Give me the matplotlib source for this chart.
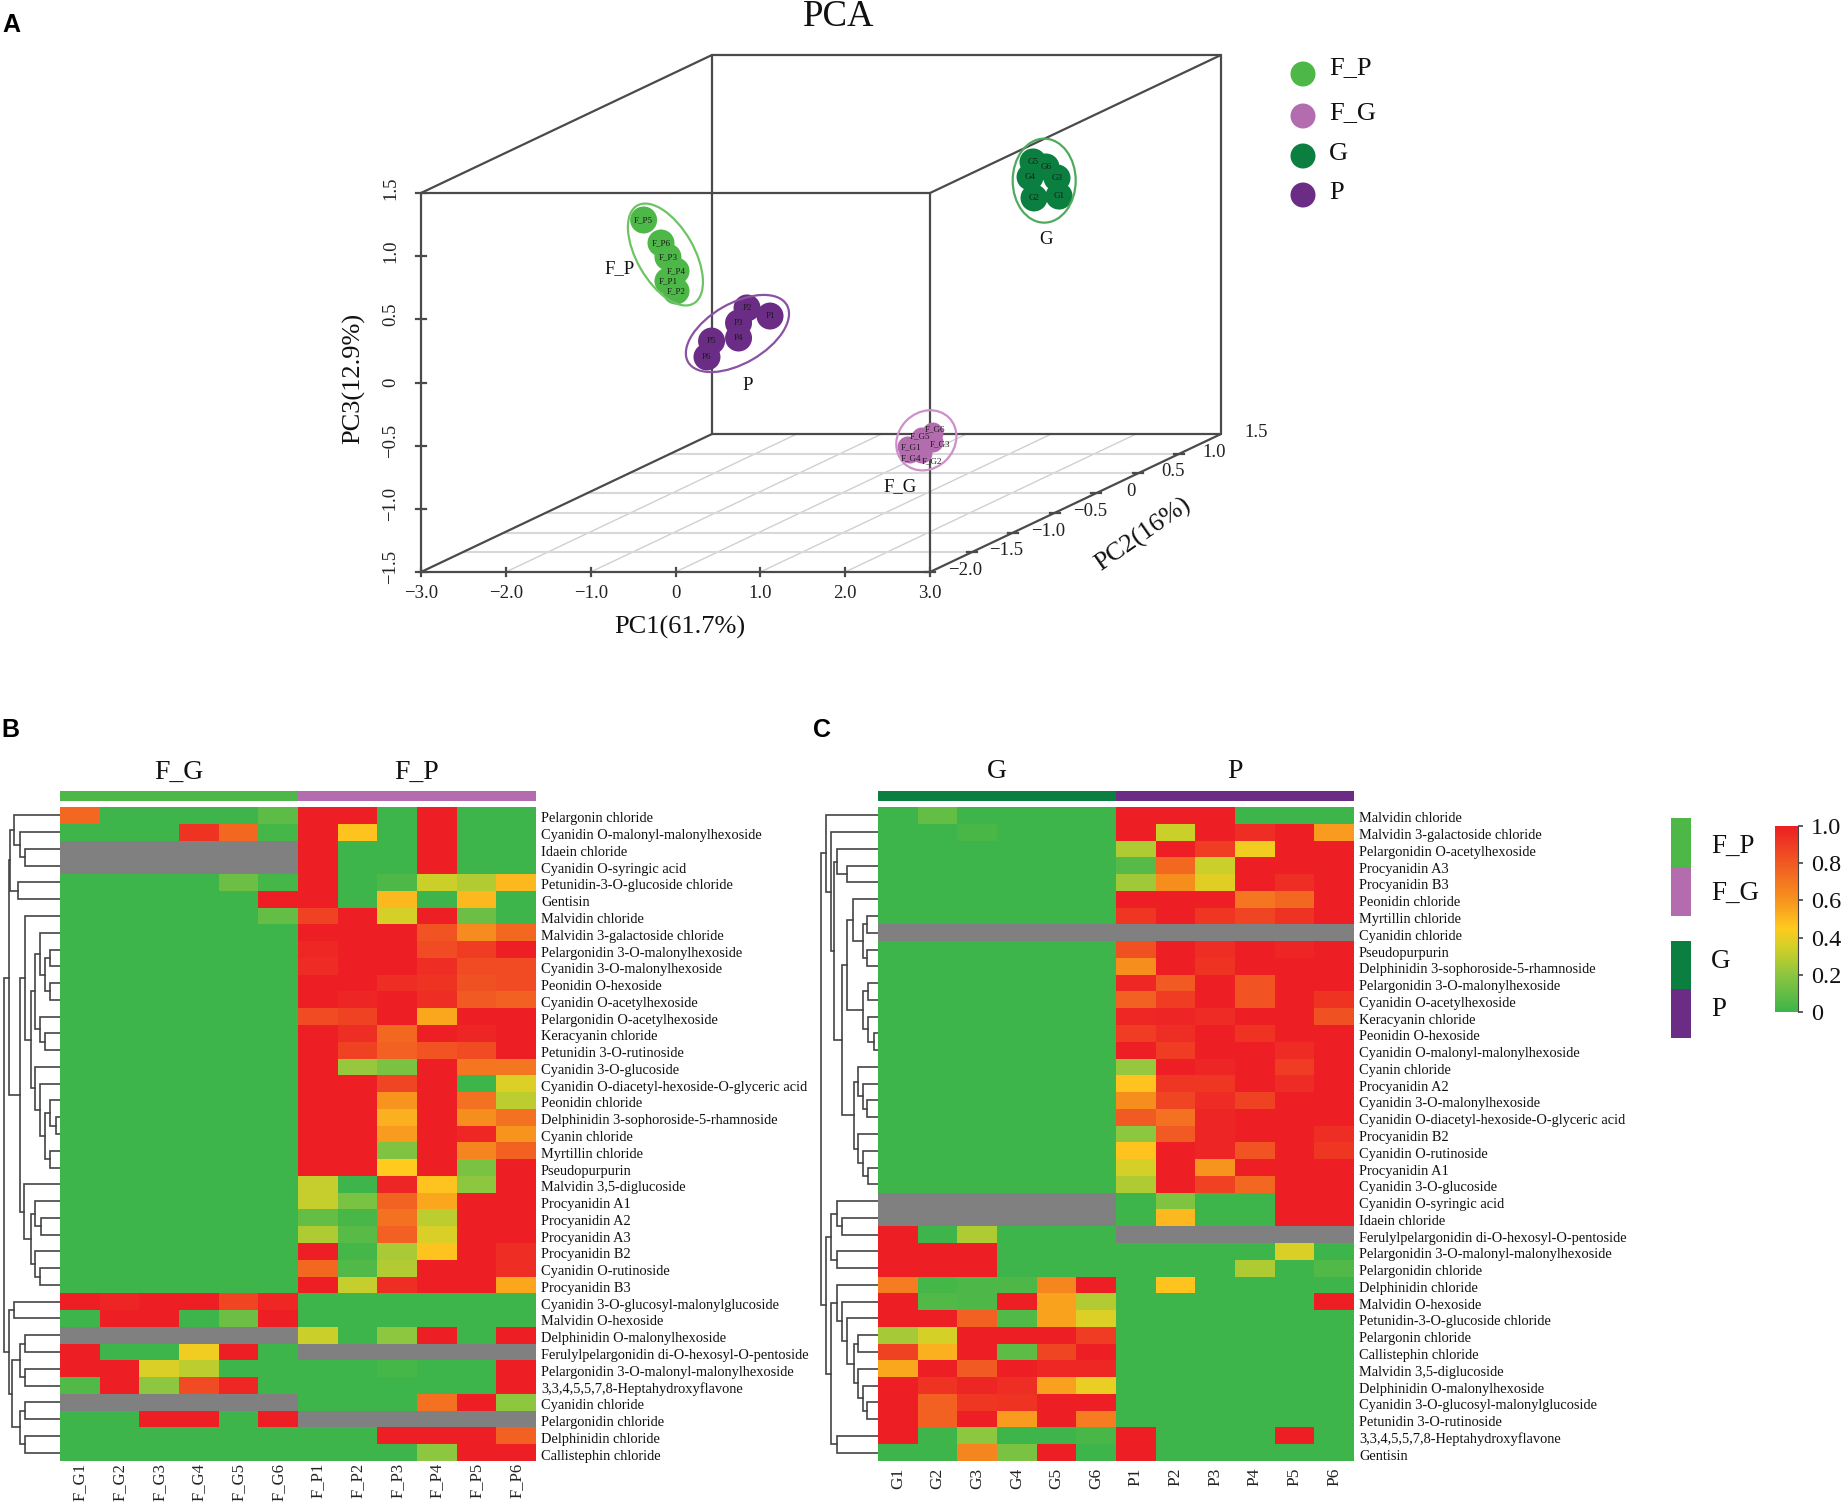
import numpy as np
import matplotlib
matplotlib.use('Agg')
import matplotlib.pyplot as plt
from matplotlib.colors import LinearSegmentedColormap
from matplotlib.patches import Ellipse, Rectangle
from matplotlib.transforms import ScaledTranslation

plt.rcParams['font.family'] = ['Liberation Serif', 'DejaVu Serif']

W, H = 1843, 1504
n = np.nan
Z6 = [0, 0, 0, 0, 0, 0]
N6 = [n, n, n, n, n, n]

# --- PCA scores
fp_names = ['F_P1', 'F_P2', 'F_P3', 'F_P4', 'F_P5', 'F_P6']
fp_pc1 = [-1.804, -1.709, -1.804, -1.709, -2.091, -1.886]
fp_pc2 = [-0.25, -0.25, -0.25, -0.25, -0.25, -0.25]
fp_pc3 = [0.257, 0.178, 0.447, 0.336, 0.740, 0.558]

p_names = ['P1', 'P2', 'P3', 'P4', 'P5', 'P6']
p_pc1 = [-0.601, -0.872, -0.972, -0.972, -1.290, -1.344]
p_pc2 = [-0.25, -0.25, -0.25, -0.25, -0.25, -0.25]
p_pc3 = [-0.020, 0.044, -0.075, -0.194, -0.218, -0.344]

fg_names = ['F_G1', 'F_G2', 'F_G3', 'F_G4', 'F_G5', 'F_G6']
fg_pc1 = [1.369, 1.534, 1.663, 1.392, 1.534, 1.663]
fg_pc2 = [-0.6, -0.6, -0.6, -0.6, -0.6, -0.6]
fg_pc3 = [-0.947, -0.995, -0.908, -0.995, -0.876, -0.837]

g_names = ['G1', 'G2', 'G3', 'G4', 'G5', 'G6']
g_pc1 = [1.777, 1.482, 1.753, 1.435, 1.470, 1.623]
g_pc2 = [0.8, 0.8, 0.8, 0.8, 0.8, 0.8]
g_pc3 = [0.602, 0.587, 0.745, 0.753, 0.872, 0.832]

pc1_ticks = [-3.0, -2.0, -1.0, 0, 1.0, 2.0, 3.0]
pc2_ticks = [-2.0, -1.5, -1.0, -0.5, 0, 0.5, 1.0, 1.5]
pc3_ticks = [-1.5, -1.0, -0.5, 0, 0.5, 1.0, 1.5]

# --- heatmap B
b_cols = fg_names + fp_names
b_rows = ['Pelargonin chloride', 'Cyanidin O-malonyl-malonylhexoside', 'Idaein chloride',
          'Cyanidin O-syringic acid', 'Petunidin-3-O-glucoside chloride', 'Gentisin',
          'Malvidin chloride', 'Malvidin 3-galactoside chloride', 'Pelargonidin 3-O-malonylhexoside',
          'Cyanidin 3-O-malonylhexoside', 'Peonidin O-hexoside', 'Cyanidin O-acetylhexoside',
          'Pelargonidin O-acetylhexoside', 'Keracyanin chloride', 'Petunidin 3-O-rutinoside',
          'Cyanidin 3-O-glucoside', 'Cyanidin O-diacetyl-hexoside-O-glyceric acid', 'Peonidin chloride',
          'Delphinidin 3-sophoroside-5-rhamnoside', 'Cyanin chloride', 'Myrtillin chloride',
          'Pseudopurpurin', 'Malvidin 3,5-diglucoside', 'Procyanidin A1', 'Procyanidin A2',
          'Procyanidin A3', 'Procyanidin B2', 'Cyanidin O-rutinoside', 'Procyanidin B3',
          'Cyanidin 3-O-glucosyl-malonylglucoside', 'Malvidin O-hexoside', 'Delphinidin O-malonylhexoside',
          'Ferulylpelargonidin di-O-hexosyl-O-pentoside', 'Pelargonidin 3-O-malonyl-malonylhexoside',
          '3,3,4,5,5,7,8-Heptahydroxyflavone', 'Cyanidin chloride', 'Pelargonidin chloride',
          'Delphinidin chloride', 'Callistephin chloride']
b_left = [[.75, 0, 0, 0, 0, .08], [0, 0, 0, .93, .75, .02], N6, N6, [0, 0, 0, 0, .12, .02],
          [0, 0, 0, 0, 0, 1], [0, 0, 0, 0, 0, .1]] + [Z6] * 22 + \
         [[1, .98, 1, 1, .87, .97], [0, 1, 1, 0, .12, 1], N6, [1, 0, 0, .42, 1, 0],
          [1, 1, .36, .3, 0, 0], [.05, 1, .2, .85, .97, 0], N6, [0, 0, 1, 1, 0, 1], Z6, Z6]
b_right = [[1, 1, 0, 1, 0, 0], [1, .47, 0, 1, 0, 0], [1, 0, 0, 1, 0, 0], [1, 0, 0, 1, 0, 0],
           [1, 0, .04, .33, .28, .5], [1, 0, .5, 0, .5, 0], [.88, 1, .35, 1, .12, 0],
           [1, 1, 1, .82, .63, .75], [.97, 1, 1, .85, .9, 1], [.96, 1, 1, .95, .85, .85],
           [1, 1, .95, .93, .83, .85], [1, .98, 1, .95, .8, .78], [.85, .88, 1, .55, 1, 1],
           [1, .95, .75, 1, .98, 1], [1, .88, .78, .82, .85, 1], [1, .22, .15, 1, .7, .7],
           [1, 1, .87, 1, 0, .37], [1, 1, .6, 1, .72, .3], [1, 1, .52, 1, .62, .72],
           [1, 1, .58, 1, .97, .6], [1, 1, .17, 1, .65, .78], [1, 1, .45, 1, .15, 1],
           [.32, 0, .98, .47, .2, 1], [.32, .15, .77, .55, 1, 1], [.1, .03, .72, .3, 1, 1],
           [.27, .07, .78, .36, 1, 1], [1, .02, .26, .47, 1, .95], [.75, .05, .28, 1, 1, .95],
           [1, .32, .95, 1, 1, .55], Z6, Z6, [.33, 0, .2, 1, 0, 1], N6, [0, 0, .02, 0, 0, 1],
           [0, 0, 0, 0, 0, 1], [0, 0, 0, .72, 1, .2], N6, [0, 0, 1, 1, 1, .78], [0, 0, 0, .2, 1, 1]]

# --- heatmap C
c_cols = g_names + p_names
c_rows = ['Malvidin chloride', 'Malvidin 3-galactoside chloride', 'Pelargonidin O-acetylhexoside',
          'Procyanidin A3', 'Procyanidin B3', 'Peonidin chloride', 'Myrtillin chloride', 'Cyanidin chloride',
          'Pseudopurpurin', 'Delphinidin 3-sophoroside-5-rhamnoside', 'Pelargonidin 3-O-malonylhexoside',
          'Cyanidin O-acetylhexoside', 'Keracyanin chloride', 'Peonidin O-hexoside',
          'Cyanidin O-malonyl-malonylhexoside', 'Cyanin chloride', 'Procyanidin A2',
          'Cyanidin 3-O-malonylhexoside', 'Cyanidin O-diacetyl-hexoside-O-glyceric acid', 'Procyanidin B2',
          'Cyanidin O-rutinoside', 'Procyanidin A1', 'Cyanidin 3-O-glucoside', 'Cyanidin O-syringic acid',
          'Idaein chloride', 'Ferulylpelargonidin di-O-hexosyl-O-pentoside',
          'Pelargonidin 3-O-malonyl-malonylhexoside', 'Pelargonidin chloride', 'Delphinidin chloride',
          'Malvidin O-hexoside', 'Petunidin-3-O-glucoside chloride', 'Pelargonin chloride',
          'Callistephin chloride', 'Malvidin 3,5-diglucoside', 'Delphinidin O-malonylhexoside',
          'Cyanidin 3-O-glucosyl-malonylglucoside', 'Petunidin 3-O-rutinoside',
          '3,3,4,5,5,7,8-Heptahydroxyflavone', 'Gentisin']
c_left = [[0, .1, 0, 0, 0, 0], [0, 0, .03, 0, 0, 0]] + [Z6] * 5 + [N6] + [Z6] * 15 + [N6, N6] + \
         [[1, 0, .27, 0, 0, 0], [1, 1, 1, 0, 0, 0], [1, 1, 1, 0, 0, 0],
          [.68, .02, .04, .04, .65, 1], [1, .05, .04, 1, .56, .28], [1, 1, .78, .05, .56, .37],
          [.25, .35, 1, 1, 1, .9], [.88, .52, 1, .08, .87, 1], [.55, 1, .8, 1, .97, .97],
          [1, .93, .98, .95, .57, .4], [1, .78, .92, .93, 1, 1], [1, .78, 1, .58, 1, .68],
          [1, 0, .2, 0, 0, .03], [0, 0, .65, .15, 1, 0]]
c_right = [[1, 1, 1, 0, 0, 0], [1, .33, 1, .95, 1, .58], [.27, 1, .9, .42, 1, 1], [.06, .75, .33, 1, 1, 1],
           [.24, .62, .38, 1, .95, 1], [1, 1, 1, .7, .75, 1], [.92, 1, .92, .87, .93, 1], N6,
           [.83, 1, .95, 1, .98, 1], [.62, 1, .93, 1, 1, 1], [.97, .8, 1, .82, 1, 1],
           [.78, .9, 1, .82, 1, .93], [.97, .98, .96, 1, 1, .83], [.9, .95, 1, .93, 1, 1],
           [1, .9, 1, 1, .96, 1], [.22, 1, .98, 1, .9, 1], [.47, .92, .92, 1, .96, 1],
           [.62, .87, .96, .88, 1, 1], [.8, .72, .98, 1, 1, 1], [.2, .8, .98, 1, 1, .95],
           [.47, 1, .98, .82, 1, .92], [.35, 1, .6, 1, 1, 1], [.27, 1, .88, .75, 1, 1],
           [0, .17, 0, 0, 1, 1], [0, .5, 0, 0, 1, 1], N6, [0, 0, 0, 0, .36, 0], [0, 0, 0, .27, 0, .05],
           [0, .47, 0, 0, 0, 0], [0, 0, 0, 0, 0, 1]] + [Z6] * 7 + [[1, 0, 0, 0, 1, 0], [1, 0, 0, 0, 0, 0]]

# row trees: (height, left, right), leaves are row numbers
b_tree = (105,
          (97,
           (95, (86, 1, (76, 2, (66, 3, 4))), (80, 5, 6)),
           (76,
            (66, 7, (55,
                     (48, (38, 8, (28, (18, 9, 10), (18, 11, 12))), (38, 13, (28, 14, 15))),
                     (48, 16, (38, 17, (28, (18, 18, (8, 19, 20)), (18, 21, 22)))))),
            (68, 23, (55, (48, 24, (35, 25, 26)), (48, 27, (38, 28, 29)))))),
          (96, (86, 30, 31),
           (90, (75, (66, 32, 33), (66, 34, 35)), (75, (66, 36, 37), (66, 38, 39)))))

c_tree = (108,
          (98, 1, (88, 2, (83, (78, 3, (58, 4, 5)),
                           (68,
                            (58, (48, 6, (28, (20, 7, 8), (20, 9, 10))),
                             (28, (18, 11, 12), (18, 13, (8, 14, 15)))),
                            (45, (38, 16, (28, 17, (20, 18, 19))), (38, 20, (28, 21, (18, 22, 23)))))))),
          (98,
           (88, (78, 24, (68, 25, 26)), (78, 27, 28)),
           (88,
            (78, 29, (68, 30, (58, 31, (45, (38, 32, 33), (38, 34, (28, 35, (20, 36, 37))))))),
            (78, 38, 39))))

col_fp, col_fg, col_g, col_p = '#4db848', '#b36dae', '#0b7f3f', '#6b2c85'
cmap = LinearSegmentedColormap.from_list('gyr', [(0, '#3db54a'), (0.2, '#8dc63f'), (0.35, '#d4d027'),
                                                 (0.45, '#ffcb1f'), (0.6, '#f7941e'), (0.8, '#f15a22'),
                                                 (1, '#ed1f24')], N=256)
cmap.set_bad('#808080')

fig = plt.figure(figsize=(W / 100, H / 100), dpi=100)
canvas = fig.add_axes([0, 0, 1, 1])
canvas.set_xlim(0, W)
canvas.set_ylim(H, 0)
canvas.axis('off')


def add_ax(x0, y0, x1, y1):
    # axes from pixel box, y counted from the top
    return fig.add_axes([x0 / W, 1 - y1 / H, (x1 - x0) / W, (y1 - y0) / H])


def project(pc1, pc2, pc3):
    # oblique view of the PCA box
    pc1, pc2, pc3 = np.asarray(pc1, float), np.asarray(pc2, float), np.asarray(pc3, float)
    t = (pc2 + 2) / 3.5
    return 421 + (pc1 + 3) / 6 * 509 + t * 291, 572 - (pc3 + 1.5) / 3 * 379 - t * 138


def box_line(a, b, **kw):
    xa, ya = project(*a)
    xb, yb = project(*b)
    canvas.plot([xa, xb], [ya, yb], solid_capstyle='round', **kw)


def fmt(v):
    if v == 0:
        return '0'
    return ('\u2212' if v < 0 else '') + '%.1f' % abs(v)


# --- panel A
for v in pc1_ticks[1:-1]:
    box_line((v, -2, -1.5), (v, 1.5, -1.5), color='#d0d0d0', lw=1.0, zorder=1)
for v in pc2_ticks[1:-1]:
    box_line((-3, v, -1.5), (3, v, -1.5), color='#d8d8d8', lw=1.5, zorder=1)

edge = dict(color='#4a4a4a', lw=1.6, zorder=2)
for a, b in [((-3, -2, -1.5), (3, -2, -1.5)), ((3, -2, -1.5), (3, 1.5, -1.5)), ((-3, -2, -1.5), (-3, 1.5, -1.5)),
             ((-3, 1.5, -1.5), (3, 1.5, -1.5)), ((-3, -2, 1.5), (3, -2, 1.5)), ((-3, 1.5, 1.5), (3, 1.5, 1.5)),
             ((-3, -2, -1.5), (-3, -2, 1.5)), ((3, -2, -1.5), (3, -2, 1.5)), ((-3, 1.5, -1.5), (-3, 1.5, 1.5)),
             ((3, 1.5, -1.5), (3, 1.5, 1.5)), ((-3, -2, 1.5), (-3, 1.5, 1.5)), ((3, -2, 1.5), (3, 1.5, 1.5))]:
    box_line(a, b, **edge)

for v in pc1_ticks:
    x, y = project(v, -2, -1.5)
    canvas.plot([x, x], [y - 4, y + 4], **edge)
    canvas.text(x, y + 21, fmt(v), ha='center', va='center', fontsize=13.5, color='#222222')
for v in pc3_ticks:
    x, y = project(-3, -2, v)
    canvas.plot([x - 5, x + 5], [y, y], **edge)
    canvas.text(x - 30, y - (5 if v != 0 else 0), fmt(v), ha='center', va='center', rotation=90,
                fontsize=13.5, color='#222222')
for v in pc2_ticks:
    x, y = project(3, v, -1.5)
    if v < 1.5:
        canvas.plot([x - 5, x + 5], [y, y], **edge)
    canvas.text(x + 35, y - 1.5, fmt(v), ha='center', va='center', fontsize=13.5, color='#222222')

groups = [
    (fp_names, fp_pc1, fp_pc2, fp_pc3, col_fp, '#6cc463', 13.5, 'F_P', (-46, 14), (113, 57, 60), (0, -6)),
    (p_names, p_pc1, p_pc2, p_pc3, col_p, '#8a52a3', 13.5, 'P', (10, 52), (114, 60, -30), (2, 3)),
    (fg_names, fg_pc1, fg_pc2, fg_pc3, col_fg, '#cf8fc9', 10.5, 'F_G', (-26, 46), (64, 56, -45), (5, -4)),
    (g_names, g_pc1, g_pc2, g_pc3, col_g, '#4faa5e', 13.5, 'G', (2, 59), (84, 63, 90), (1, 1)),
]
fg_label_dx = [3, 10, 7, 1, -2, 2]
fg_label_dy = [0, 8, 2, 5, -2, -4]
for names, a, b, c, col, ecol, r, tag, tag_off, ell, ell_off in groups:
    xs, ys = project(a, b, c)
    for x, y in zip(xs, ys):
        canvas.add_patch(plt.Circle((x, y), r, color=col, lw=0, zorder=4))
    cx, cy = xs.mean() + ell_off[0], ys.mean() + ell_off[1]
    canvas.add_patch(Ellipse((cx, cy), ell[0], ell[1], angle=ell[2], fill=False, ec=ecol, lw=1.6, zorder=5))
    canvas.text(cx + tag_off[0], cy + tag_off[1], tag, ha='center', va='center', fontsize=13.5, color='#111111', zorder=6)
    for i, (x, y, name) in enumerate(zip(xs, ys, names)):
        if tag == 'F_G':
            x, y = x + fg_label_dx[i], y + fg_label_dy[i]
        canvas.text(x, y, name, ha='center', va='center', fontsize=6.5, color='#1a1a1a', zorder=6)

canvas.text(839, 26, 'PCA', ha='center', va='baseline', fontsize=26.5, color='#111111')
canvas.text(680, 627, 'PC1(61.7%)', ha='center', va='center', fontsize=19, color='#111111')
canvas.text(354, 378, 'PC3(12.9%)', ha='center', va='center', rotation=90, fontsize=19, color='#111111')
canvas.text(1143, 535, 'PC2(16%)', ha='center', va='center', rotation=35, fontsize=19, color='#111111')

legend_names = ['F_P', 'F_G', 'G', 'P']
legend_cols = [col_fp, col_fg, col_g, col_p]
legend_y = [74, 116, 156, 195]
text_y = [68, 113, 154, 193]
for name, col, y, ty in zip(legend_names, legend_cols, legend_y, text_y):
    canvas.add_patch(plt.Circle((1303, y), 12.5, color=col, lw=0))
    canvas.text(1329, ty, name, ha='left', va='center', fontsize=19, color='#111111')

for s, x, y in [('A', 2, 25), ('B', 1, 730), ('C', 813, 730)]:
    canvas.text(x, y, s, ha='left', va='center', fontsize=18, fontweight='bold', family='Liberation Sans')


def draw_tree(ax, node):
    # returns the row position of a node, drawing on the way
    if not isinstance(node, tuple):
        return node - 0.5, 0
    h, a, b = node
    ya, ha = draw_tree(ax, a)
    yb, hb = draw_tree(ax, b)
    ax.plot([ha, h, h, hb], [ya, ya, yb, yb], color='#444444', lw=1.2, solid_joinstyle='miter')
    return (ya + yb) / 2, h


def heatmap(left, right, cols, rows, vals, tree, tree_w, names, colors, xfont, xpad):
    x0, x1, y0, y1 = left, right, 807, 1461
    ax = add_ax(x0, y0, x1, y1)
    ax.pcolormesh(np.arange(13), np.arange(40), np.ma.masked_invalid(vals), cmap=cmap, vmin=0, vmax=1)
    ax.set_xlim(0, 12)
    ax.set_ylim(39, 0)
    for s in ax.spines.values():
        s.set_visible(False)
    ax.set_xticks(np.arange(12) + 0.5)
    ax.set_xticklabels(cols, rotation=90, fontsize=xfont, color='#222222')
    ax.set_yticks(np.arange(39) + 0.5)
    ax.set_yticklabels(rows, fontsize=10.4, color='#111111')
    ax.yaxis.tick_right()
    ax.tick_params(length=0)
    ax.tick_params(axis='y', pad=3.6)
    ax.tick_params(axis='x', pad=xpad)
    down = ScaledTranslation(0, -2 / 100, fig.dpi_scale_trans)
    for lab in ax.get_yticklabels():
        lab.set_transform(lab.get_transform() + down)

    tr = add_ax(x0 - tree_w / 1.889, y0, x0, y1)
    draw_tree(tr, tree)
    tr.set_xlim(tree_w, 0)
    tr.set_ylim(39, 0)
    tr.axis('off')

    mid = (x0 + x1) / 2
    canvas.add_patch(Rectangle((x0, 791), mid - x0, 10, color=colors[0], lw=0))
    canvas.add_patch(Rectangle((mid, 791), x1 - mid, 10, color=colors[1], lw=0))
    canvas.text((x0 + mid) / 2, 772, names[0], ha='center', va='center', fontsize=20, color='#111111')
    canvas.text((mid + x1) / 2, 772, names[1], ha='center', va='center', fontsize=20, color='#111111')


heatmap(60, 536, b_cols, b_rows, np.hstack([b_left, b_right]), b_tree, 113, ('F_G', 'F_P'), (col_fp, col_fg), 12, 1.5)
heatmap(878, 1354, c_cols, c_rows, np.hstack([c_left, c_right]), c_tree, 128, ('G', 'P'), (col_g, col_p), 12.5, 5)

# --- panel legend and colour bar
box_names = ['F_P', 'F_G', 'G', 'P']
box_cols = [col_fp, col_fg, col_g, col_p]
box_top = [818, 867, 941, 989]
box_text = [846, 893, 962, 1009]
for name, col, top, ty in zip(box_names, box_cols, box_top, box_text):
    canvas.add_patch(Rectangle((1671, top), 20, 48.5, color=col, lw=0))
    canvas.text(1711, ty, name, ha='left', va='center', fontsize=19.5, color='#111111')

cb = add_ax(1775, 826, 1798, 1012)
cb.imshow(np.linspace(1, 0, 256).reshape(-1, 1), cmap=cmap, vmin=0, vmax=1, aspect='auto', extent=[0, 1, 0, 1])
cb.set_xticks([])
cb.yaxis.tick_right()
cb.set_yticks([0, 0.2, 0.4, 0.6, 0.8, 1.0])
cb.set_yticklabels(['0', '0.2', '0.4', '0.6', '0.8', '1.0'], fontsize=17.5, color='#111111')
cb.tick_params(axis='y', length=3.6, width=1.2, color='#444444', pad=5.5)
for side, s in cb.spines.items():
    s.set_visible(side == 'right')
    s.set_color('#444444')

fig.savefig('out.png', dpi=100)
